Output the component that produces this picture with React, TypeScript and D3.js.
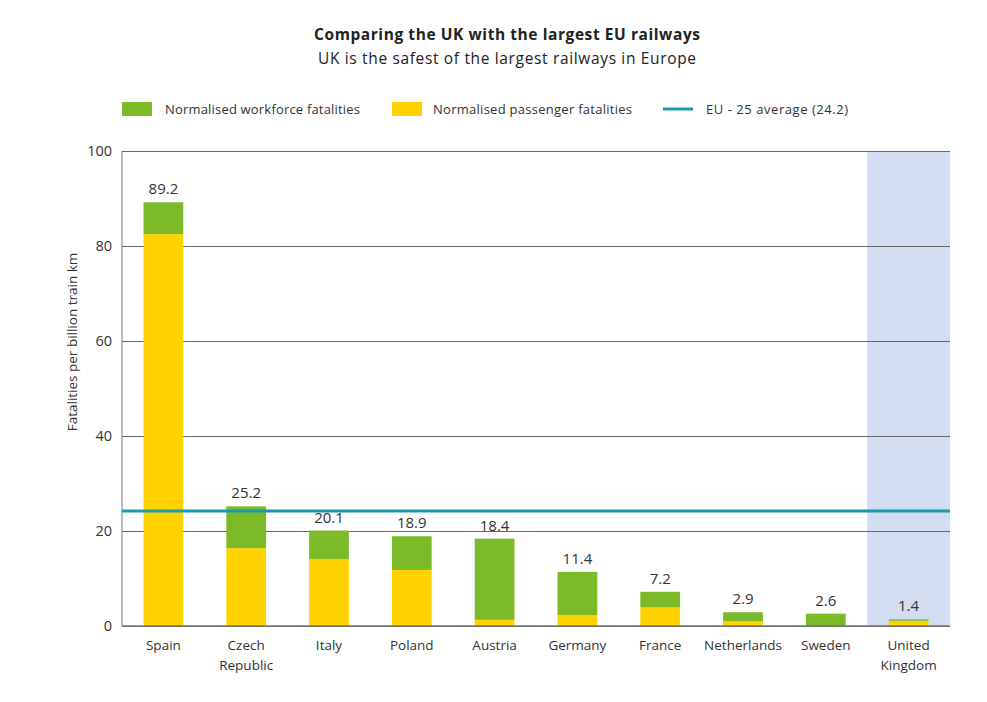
import { useEffect, useRef } from "react";
import * as d3 from "d3";

const countries = ["Spain", "Czech Republic", "Italy", "Poland", "Austria", "Germany", "France", "Netherlands", "Sweden", "United Kingdom"];
const totals = [89.2, 25.2, 20.1, 18.9, 18.4, 11.4, 7.2, 2.9, 2.6, 1.4];
const passenger = [82.5, 16.4, 14.1, 11.8, 1.3, 2.3, 3.9, 1.0, 0, 1.1];
const yTicks = [0, 20, 40, 60, 80, 100];
const euAverage = 24.2;

const GREEN = "#7dba2a";
const YELLOW = "#ffd200";
const TEAL = "#1b9aa9";
const FONT = "'Open Sans', sans-serif";

export default function App() {
  const ref = useRef<SVGSVGElement>(null);

  useEffect(() => {
    const svg = d3.select(ref.current);
    svg.selectAll("*").remove();
    const margin = { top: 151, left: 122, right: 37, bottom: 76 };
    const W = 987, H = 702;
    const w = W - margin.left - margin.right;
    const h = H - margin.top - margin.bottom;

    const x = d3.scaleBand().domain(countries).range([0, w]).paddingInner(0.52).paddingOuter(0.26);
    const y = d3.scaleLinear().domain([0, 100]).range([h, 0]);

    // titles
    svg.append("text").text("Comparing the UK with the largest EU railways")
      .attr("x", 507).attr("y", 40).attr("text-anchor", "middle").attr("textLength", 386)
      .style("font-family", FONT).style("font-weight", "bold").style("font-size", "15.5px").attr("fill", "#222");
    svg.append("text").text("UK is the safest of the largest railways in Europe")
      .attr("x", 507).attr("y", 64).attr("text-anchor", "middle").attr("textLength", 378)
      .style("font-family", FONT).style("font-size", "15.5px").attr("fill", "#222");

    // legend
    const leg = svg.append("g").style("font-family", FONT).style("font-size", "13px").attr("fill", "#333");
    leg.append("rect").attr("x", 122).attr("y", 102).attr("width", 30).attr("height", 14).attr("fill", GREEN);
    leg.append("text").text("Normalised workforce fatalities").attr("x", 165).attr("y", 114).attr("textLength", 195);
    leg.append("rect").attr("x", 392).attr("y", 102).attr("width", 30).attr("height", 14).attr("fill", YELLOW);
    leg.append("text").text("Normalised passenger fatalities").attr("x", 433).attr("y", 114).attr("textLength", 199);
    leg.append("line").attr("x1", 663).attr("x2", 693).attr("y1", 109).attr("y2", 109).attr("stroke", TEAL).attr("stroke-width", 3);
    leg.append("text").text("EU - 25 average (24.2)").attr("x", 706).attr("y", 114).attr("textLength", 142);

    const g = svg.append("g").attr("transform", `translate(${margin.left},${margin.top})`);

    // UK highlight
    const step = x.step();
    const ukCenter = x("United Kingdom")! + x.bandwidth() / 2;
    g.append("rect").attr("x", ukCenter - step / 2).attr("y", 0).attr("width", w - (ukCenter - step / 2)).attr("height", h)
      .attr("fill", "#d3ddf1");

    // grid
    g.append("g").call(d3.axisLeft(y).tickValues(yTicks).tickSize(-w).tickPadding(10))
      .call((s) => s.select(".domain").attr("stroke", "#777").attr("d", `M0,0V${h}`))
      .call((s) => s.selectAll(".tick line").attr("stroke", "#666").attr("stroke-width", 1))
      .call((s) => s.selectAll(".tick text").attr("fill", "#333").style("font-family", FONT).style("font-size", "14.5px"));

    const data = countries.map((c, i) => ({ c, p: passenger[i], t: totals[i] }));

    g.selectAll("rect.pass").data(data).join("rect").attr("class", "pass")
      .attr("x", (d) => x(d.c)!).attr("width", x.bandwidth())
      .attr("y", (d) => y(d.p)).attr("height", (d) => y(0) - y(d.p)).attr("fill", YELLOW);
    g.selectAll("rect.work").data(data).join("rect").attr("class", "work")
      .attr("x", (d) => x(d.c)!).attr("width", x.bandwidth())
      .attr("y", (d) => y(d.t)).attr("height", (d) => y(d.p) - y(d.t)).attr("fill", GREEN);

    g.selectAll("text.val").data(data).join("text").attr("class", "val")
      .attr("x", (d) => x(d.c)! + x.bandwidth() / 2).attr("y", (d) => y(d.t) - 8)
      .attr("text-anchor", "middle").text((d) => d.t.toFixed(1))
      .style("font-family", FONT).style("font-size", "15px").attr("fill", "#333");

    // baseline
    g.append("line").attr("x1", 0).attr("x2", w).attr("y1", h).attr("y2", h).attr("stroke", "#777").attr("stroke-width", 1.5);

    // EU average
    g.append("line").attr("x1", 0).attr("x2", w).attr("y1", y(euAverage)).attr("y2", y(euAverage))
      .attr("stroke", TEAL).attr("stroke-width", 3);

    // x labels
    const xl = g.append("g").style("font-family", FONT).style("font-size", "13.5px").attr("fill", "#333");
    countries.forEach((c) => {
      const words = c.split(" ");
      const t = xl.append("text").attr("x", x(c)! + x.bandwidth() / 2).attr("y", h + 24).attr("text-anchor", "middle");
      words.forEach((wd, i) => t.append("tspan").attr("x", x(c)! + x.bandwidth() / 2).attr("dy", i === 0 ? 0 : 20).text(wd));
    });

    // y title
    svg.append("text").text("Fatalities per billion train km")
      .attr("transform", `translate(77,342) rotate(-90)`).attr("text-anchor", "middle")
      .style("font-family", FONT).style("font-size", "13.5px").attr("fill", "#333");
  }, []);

  return <svg ref={ref} width={987} height={702} style={{ position: "absolute", left: 0, top: 0 }} />;
}
